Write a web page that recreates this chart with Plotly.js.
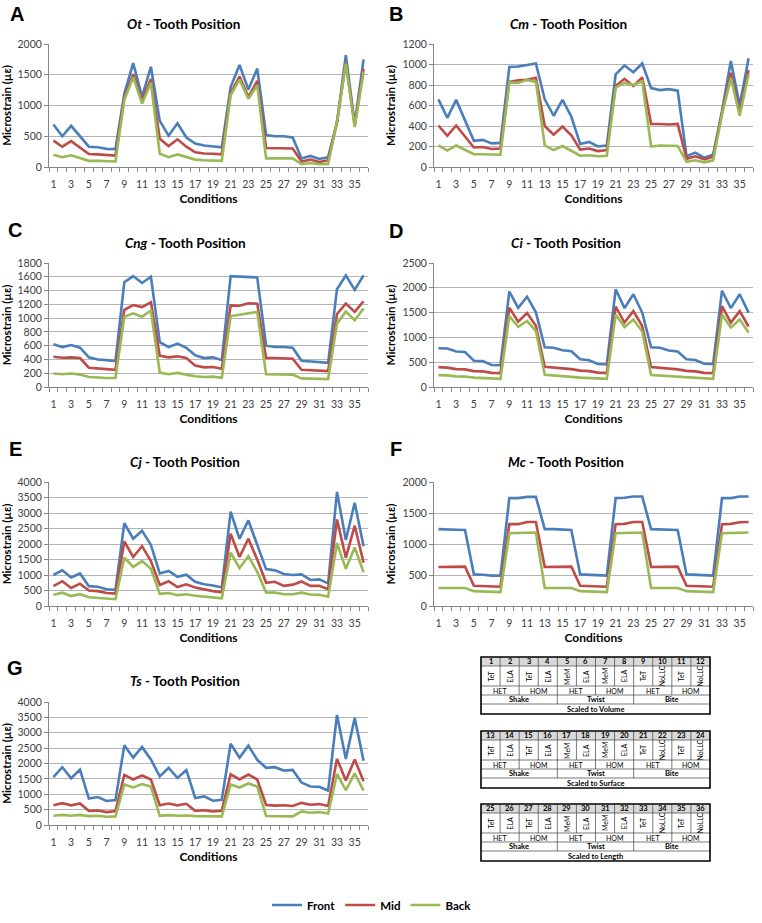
<!DOCTYPE html>
<html><head><meta charset="utf-8">
<script src="https://cdn.plot.ly/plotly-3.0.1.min.js"></script>
<style>html,body{margin:0;padding:0;background:#fff}#chart{width:762px;height:923px}</style>
</head><body><div id="chart"></div>
<script>
// ---------- DATA ----------
const conditions = [1,2,3,4,5,6,7,8,9,10,11,12,13,14,15,16,17,18,19,20,21,22,23,24,25,26,27,28,29,30,31,32,33,34,35,36];
const seriesNames = ['Front','Mid','Back'];

const otFront = [690,500,670,500,330,320,295,290,1190,1690,1140,1630,750,510,710,480,380,350,340,320,1300,1660,1260,1600,520,500,500,480,140,180,130,160,720,1820,700,1750];
const otMid   = [430,330,420,320,210,205,195,185,1130,1510,1080,1430,460,340,450,330,240,220,215,205,1200,1470,1140,1400,310,310,300,300,90,120,80,110,730,1700,680,1600];
const otBack  = [200,160,190,150,100,100,95,90,1090,1460,1030,1370,215,160,205,160,120,110,105,100,1170,1420,1110,1330,140,140,135,140,45,65,45,50,740,1680,650,1550];

const cmFront = [660,480,655,460,255,265,230,235,975,980,995,1010,660,500,655,490,225,245,200,210,905,990,925,1010,770,750,760,745,105,140,90,120,545,1035,600,1060];
const cmMid   = [405,305,405,300,190,195,175,180,830,845,850,870,400,315,395,310,170,180,155,165,790,860,790,875,420,420,415,420,80,105,75,100,530,920,530,945];
const cmBack  = [210,160,210,165,125,125,120,120,825,820,850,830,210,165,205,160,110,115,105,110,775,820,800,835,200,210,205,205,50,65,45,65,510,870,500,905];

const cngFront = [620,580,610,570,430,400,390,375,1520,1610,1510,1600,650,580,630,570,460,420,430,390,1610,1600,1600,1590,600,580,580,570,380,370,355,350,1420,1620,1410,1620];
const cngMid   = [440,425,430,420,280,265,260,250,1120,1190,1160,1230,455,430,445,420,310,285,290,265,1185,1180,1215,1210,420,420,410,410,250,245,235,230,1060,1210,1090,1245];
const cngBack  = [195,185,195,180,145,135,130,130,1020,1070,1020,1110,210,185,205,180,155,145,150,135,1030,1050,1070,1090,185,185,185,180,125,125,120,115,920,1095,970,1140];

const ciFront = [780,775,715,705,530,525,445,440,1925,1595,1820,1505,800,790,740,720,560,540,465,455,1970,1590,1870,1500,800,790,735,715,560,545,470,460,1940,1590,1870,1500];
const ciMid   = [400,390,360,355,320,315,285,280,1600,1315,1490,1235,405,395,370,360,330,320,290,280,1620,1300,1530,1230,400,390,365,355,325,315,285,280,1630,1300,1530,1220];
const ciBack  = [240,235,215,210,190,185,170,165,1430,1215,1330,1130,245,235,215,205,190,185,170,165,1460,1210,1360,1120,240,230,210,205,190,180,170,165,1460,1200,1360,1100];

const cjFront = [1000,1150,920,1050,640,620,540,520,2670,2170,2430,1970,1050,1130,940,1010,780,700,660,600,3040,2170,2760,1980,1190,1150,1030,1000,1020,840,860,730,3680,2130,3330,1930];
const cjMid   = [640,800,580,720,500,480,420,400,2080,1580,1930,1450,680,800,610,700,600,530,480,440,2330,1580,2170,1500,750,780,650,690,790,650,650,540,2790,1560,2590,1400];
const cjBack  = [360,430,320,380,280,260,230,220,1560,1260,1450,1200,390,420,350,380,330,300,280,250,1720,1220,1610,1100,440,430,380,380,430,370,360,300,2030,1200,1890,1090];

const mcFront = [1240,1240,1230,1225,510,505,490,490,1740,1740,1760,1760,1240,1240,1230,1225,510,505,490,490,1740,1745,1765,1765,1240,1235,1230,1225,510,505,490,490,1740,1740,1765,1765];
const mcMid   = [630,630,635,635,325,320,310,310,1320,1320,1355,1355,630,630,635,635,325,320,310,310,1320,1325,1355,1355,630,630,635,635,325,320,310,310,1320,1325,1350,1355];
const mcBack  = [290,290,290,290,240,235,225,225,1175,1175,1185,1185,290,290,290,290,240,235,225,225,1175,1175,1185,1185,290,290,290,290,240,235,225,225,1175,1175,1185,1185];

const tsFront = [1560,1880,1520,1800,860,910,780,810,2590,2190,2540,2130,1580,1860,1530,1790,880,930,790,820,2640,2190,2580,2120,1860,1880,1770,1790,1380,1250,1240,1120,3580,2150,3480,2090];
const tsMid   = [640,710,640,700,460,470,420,450,1630,1480,1610,1480,640,700,640,690,460,480,440,460,1650,1480,1640,1480,650,630,640,620,720,660,680,620,2150,1450,2130,1420];
const tsBack  = [300,330,300,330,290,300,270,280,1320,1220,1330,1250,300,320,300,310,290,290,270,280,1320,1220,1350,1250,290,290,290,280,440,400,420,370,1660,1130,1680,1120];

const panelLetters = ['A','B','C','D','E','F','G'];
const panelSpecies = ['Ot','Cm','Cng','Ci','Cj','Mc','Ts'];

const tableNumbers1 = [1,2,3,4,5,6,7,8,9,10,11,12];
const tableNumbers2 = [13,14,15,16,17,18,19,20,21,22,23,24];
const tableNumbers3 = [25,26,27,28,29,30,31,32,33,34,35,36];
const modelLabels = ['TeT','ELA','TeT','ELA','MeM','ELA','MeM','ELA','TeT','NoLLC','TeT','NoLLC'];
const zygosityLabels = ['HET','HOM','HET','HOM','HET','HOM'];
const loadLabels = ['Shake','Twist','Bite'];
const scaleLabels = ['Scaled to Volume','Scaled to Surface','Scaled to Length'];

// ---------- LAYOUT ----------
const W = 762, H = 923;
const px = x => x / W, py = y => 1 - y / H;
const colors = ['#4A7EBB','#BE4B48','#98B954'];
const FONT = 'Lato, "Open Sans", sans-serif';

const panels = [
  {data:[otFront,otMid,otBack],   box:[49,368,44,167],  ymax:2000, dtick:500, title:[183,24],  letter:[17,14]},
  {data:[cmFront,cmMid,cmBack],   box:[434,753,44,167], ymax:1200, dtick:200, title:[568,24],  letter:[396,14]},
  {data:[cngFront,cngMid,cngBack],box:[49,368,263,387], ymax:1800, dtick:200, title:[185,243], letter:[15,230]},
  {data:[ciFront,ciMid,ciBack],   box:[434,753,263,387],ymax:2500, dtick:500, title:[566,243], letter:[396,231]},
  {data:[cjFront,cjMid,cjBack],   box:[49,368,482,606], ymax:4000, dtick:500, title:[185,462], letter:[15,449]},
  {data:[mcFront,mcMid,mcBack],   box:[434,753,482,606],ymax:2000, dtick:500, title:[566,462], letter:[396,449]},
  {data:[tsFront,tsMid,tsBack],   box:[49,368,702,825], ymax:4000, dtick:500, title:[185,681], letter:[15,668]}
];

const traces = [];
const layout = {
  width: W, height: H,
  margin: {l:0, r:0, t:0, b:0},
  paper_bgcolor: '#fff', plot_bgcolor: 'rgba(0,0,0,0)',
  showlegend: true,
  legend: {orientation:'h', x:px(372), xanchor:'center', y:py(905), yanchor:'middle',
           font:{family:FONT, size:11.5, color:'#000', weight:700}, traceorder:'normal',
           itemwidth:30, tracegroupgap:0},
  annotations: [], shapes: []
};

panels.forEach((p, i) => {
  const s = i === 0 ? '' : String(i + 1);
  p.data.forEach((vals, k) => {
    traces.push({
      type:'scatter', mode:'lines', x:conditions, y:vals,
      name:seriesNames[k], legendgroup:seriesNames[k], showlegend:i === 0,
      line:{color:colors[k], width:2.6}, xaxis:'x'+s, yaxis:'y'+s, hoverinfo:'skip'
    });
  });
  const [x0,x1,y0,y1] = p.box;
  layout['xaxis'+s] = {
    domain:[px(x0), px(x1)], anchor:'y'+s, range:[0.5,36.5],
    tickmode:'linear', tick0:1, dtick:2, ticks:'', showline:true, linecolor:'#868686', linewidth:1,
    showgrid:false, zeroline:false, ticklabelstandoff:7,
    tickfont:{family:FONT, size:10.5, color:'#404040'},
    minor:{tick0:0.5, dtick:1, ticks:'outside', ticklen:4, tickcolor:'#868686', showgrid:false},
    title:{text:'Conditions', font:{family:FONT, size:12, color:'#000', weight:700}, standoff:6},
    fixedrange:true
  };
  layout['yaxis'+s] = {
    domain:[py(y1), py(y0)], anchor:'x'+s, range:[0,p.ymax], tick0:0, dtick:p.dtick,
    showline:true, linecolor:'#868686', linewidth:1, ticks:'outside', ticklen:4, tickcolor:'#868686',
    showgrid:true, gridcolor:'#b4b4b4', gridwidth:1, zeroline:false,
    tickfont:{family:FONT, size:10.5, color:'#404040'},
    title:{text:'Microstrain (µε)', font:{family:FONT, size:11.5, color:'#000', weight:700}, standoff:4},
    fixedrange:true
  };
  layout.annotations.push({
    xref:'paper', yref:'paper', x:px(p.title[0]), y:py(p.title[1]), xanchor:'center', yanchor:'middle',
    text:'<b><i>'+panelSpecies[i]+'</i> - Tooth Position</b>', showarrow:false,
    font:{family:FONT, size:13.5, color:'#000'}
  });
  layout.annotations.push({
    xref:'paper', yref:'paper', x:px(p.letter[0]), y:py(p.letter[1]), xanchor:'center', yanchor:'middle',
    text:'<b>'+panelLetters[i]+'</b>', showarrow:false,
    font:{family:'"Liberation Sans", Arial, sans-serif', size:20, color:'#000'}
  });
});

// ---------- TABLES ----------
const tableNumbers = [tableNumbers1, tableNumbers2, tableNumbers3];
const tableTops = [657, 731, 804];
const TL = 481, TR = 710, cw = (TR - TL) / 12;
const rowEdges = [0, 9, 29, 38, 47, 57];
const thin = {color:'#404040', width:0.7};

tableTops.forEach((T, t) => {
  const sh = layout.shapes;
  const rect = (xa, xb, ya, yb, extra) => Object.assign({type:'rect', xref:'paper', yref:'paper',
      x0:px(xa), x1:px(xb), y0:py(yb), y1:py(ya)}, extra);
  const line = (xa, ya, xb, yb, l) => ({type:'line', xref:'paper', yref:'paper',
      x0:px(xa), y0:py(ya), x1:px(xb), y1:py(yb), line:l});
  sh.push(rect(TL, TR, T, T + rowEdges[1], {fillcolor:'#d9d9d9', line:{width:0}, layer:'below'}));
  [1,2,3,4].forEach(r => sh.push(line(TL, T + rowEdges[r], TR, T + rowEdges[r], thin)));
  for (let c = 1; c < 12; c++) {
    const x = TL + c * cw;
    sh.push(line(x, T, x, T + rowEdges[2], thin));
    if (c % 2 === 0) sh.push(line(x, T + rowEdges[2], x, T + rowEdges[3], thin));
    if (c % 4 === 0) sh.push(line(x, T + rowEdges[3], x, T + rowEdges[4], thin));
  }
  sh.push(rect(TL, TR, T, T + rowEdges[5], {line:{color:'#000', width:1.6}, fillcolor:'rgba(0,0,0,0)'}));

  const ann = (x, y, text, size, extra) => layout.annotations.push(Object.assign({
    xref:'paper', yref:'paper', x:px(x), y:py(y), xanchor:'center', yanchor:'middle',
    text:text, showarrow:false, borderpad:0, font:{family:FONT, size:size, color:'#000'}}, extra));
  tableNumbers[t].forEach((n, c) => ann(TL + (c + 0.5) * cw, T + 4.7, '<b>'+n+'</b>', 7.5));
  modelLabels.forEach((m, c) => ann(TL + (c + 0.5) * cw, T + 19, m, 7, {textangle:-90}));
  zygosityLabels.forEach((z, c) => ann(TL + (c + 0.5) * 2 * cw, T + 33.7, z, 7));
  loadLabels.forEach((l, c) => ann(TL + (c + 0.5) * 4 * cw, T + 42.7, '<b>'+l+'</b>', 7.5));
  ann((TL + TR) / 2, T + 52.2, '<b>'+scaleLabels[t]+'</b>', 7.5);
});

Plotly.newPlot('chart', traces, layout, {staticPlot:true, displayModeBar:false});
</script>
</body></html>
